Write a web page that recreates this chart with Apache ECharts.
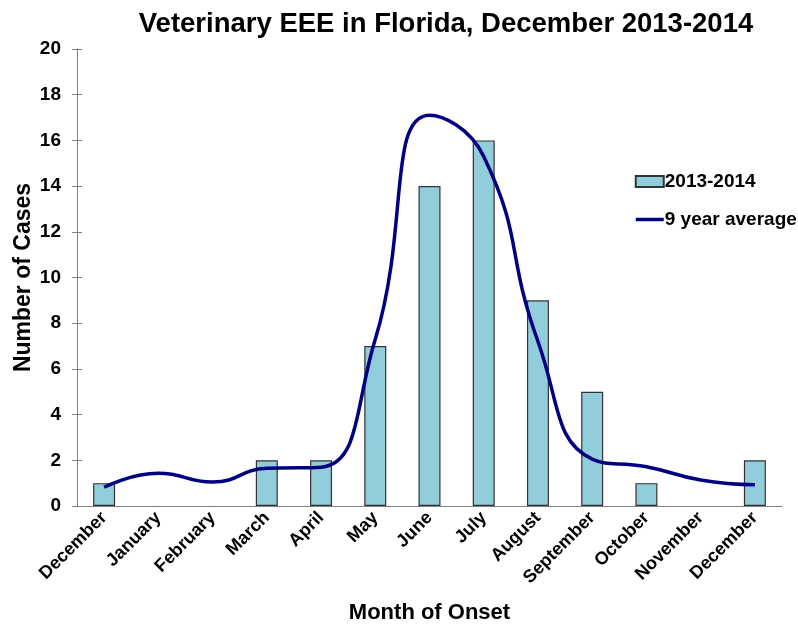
<!DOCTYPE html>
<html><head><meta charset="utf-8">
<script src="https://cdn.jsdelivr.net/npm/echarts@6/dist/echarts.min.js"></script>
<style>html,body{margin:0;padding:0;background:#fff}#c{width:798px;height:625px}</style>
</head><body><div id="c"></div>
<script>
const categories = ['December','January','February','March','April','May','June','July','August','September','October','November','December'];
const cases2013_2014 = [1, 0, 0, 2, 2, 7, 14, 16, 9, 5, 1, 0, 2];
const nineYearAverage = [0.82, 1.43, 1.05, 1.65, 1.7, 7.3, 17.1, 15.3, 7.2, 2.05, 1.72, 1.14, 0.93];
const yTicks = [0, 20, 2];
const F = '"Liberation Sans", Arial, sans-serif';
const chart = echarts.init(document.getElementById('c'));
const yBase = {
  type: 'value', min: yTicks[0], max: yTicks[1], interval: yTicks[2],
  splitLine: {show: false},
  axisLine: {show: true, lineStyle: {color: '#808080', width: 1}},
};
chart.setOption({
  animation: false,
  title: {text: 'Veterinary EEE in Florida, December 2013-2014', left: 441, textAlign: 'center', top: 5,
    textStyle: {fontFamily: F, fontWeight: 'bold', fontSize: 27.5, color: '#000'}},
  legend: {orient: 'vertical', left: 629, top: 167, itemGap: 19, itemWidth: 28, itemHeight: 11,
    textStyle: {fontFamily: F, fontWeight: 'bold', fontSize: 19, color: '#000', padding: [0,0,0,-4]},
    data: [{name: '2013-2014', icon: 'rect'},
           {name: '9 year average', itemStyle: {opacity: 0}, lineStyle: {color: '#000080', width: 3.5}}]},
  grid: {left: 77, right: 16, top: 49, bottom: 119, containLabel: false, outerBoundsMode: 'none'},
  xAxis: {type: 'category', data: categories, boundaryGap: true,
    axisLine: {lineStyle: {color: '#808080', width: 1}},
    axisTick: {show: false},
    axisLabel: {rotate: 45, interval: 0, margin: 9, fontFamily: F, fontWeight: 'bold', fontSize: 18, color: '#000'},
    name: 'Month of Onset', nameLocation: 'middle', nameGap: 96, nameMoveOverlap: false,
    nameTextStyle: {fontFamily: F, fontWeight: 'bold', fontSize: 22, color: '#000'}},
  yAxis: [
    Object.assign({}, yBase, {
      axisTick: {show: true, length: 5, lineStyle: {color: '#808080'}},
      axisLabel: {margin: 16, fontFamily: F, fontWeight: 'bold', fontSize: 19, color: '#000'},
      name: 'Number of Cases', nameLocation: 'middle', nameGap: 42, nameMoveOverlap: false,
      nameTextStyle: {fontFamily: F, fontWeight: 'bold', fontSize: 23, color: '#000'}}),
    Object.assign({}, yBase, {position: 'left',
      axisTick: {show: true, inside: true, length: 5, lineStyle: {color: '#808080'}},
      axisLabel: {show: false}})
  ],
  series: [
    {name: '2013-2014', type: 'bar', data: cases2013_2014.map(v => v === 0 ? null : v), barWidth: 22,
      itemStyle: {color: '#92CDDC', borderColor: '#333', borderWidth: 1.2}},
    {name: '9 year average', type: 'line', data: nineYearAverage, smooth: 0.5, symbol: 'none',
      lineStyle: {color: '#000080', width: 3.5}, itemStyle: {color: '#000080'}, z: 3}
  ]
});
</script></body></html>
